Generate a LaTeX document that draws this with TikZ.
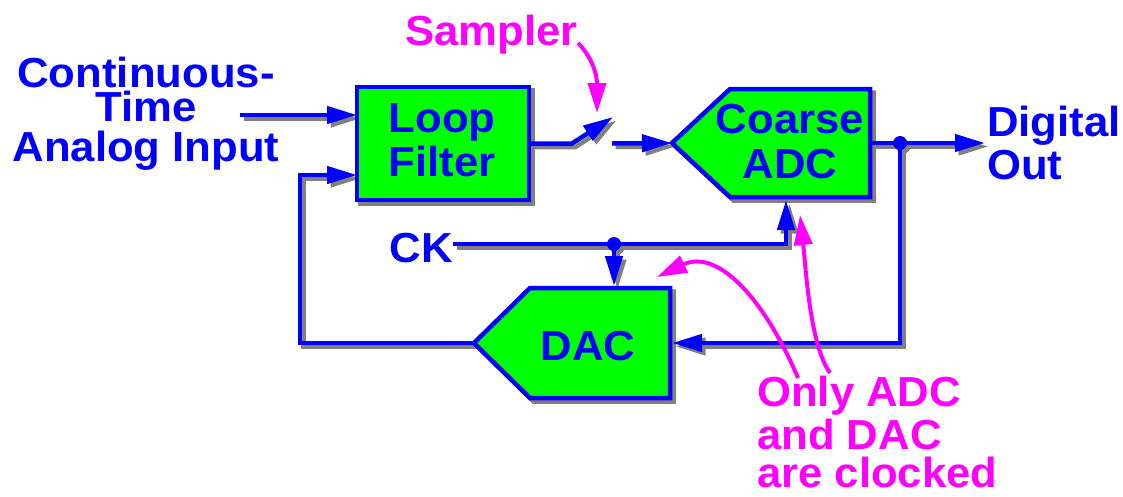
\documentclass[tikz,border=0pt]{standalone}
\usepackage{fontspec}
\setmainfont{Liberation Sans}[FakeStretch=1.04]
\usetikzlibrary{arrows.meta}

\definecolor{wireblue}{RGB}{0,0,255}
\definecolor{blockgreen}{RGB}{0,255,0}
\definecolor{notemagenta}{RGB}{255,0,255}
\definecolor{shadowgray}{RGB}{128,128,128}

\tikzset{
  blockline/.style={line width=4.5pt},
  wire/.style={line width=4.5pt, -{Triangle[length=30pt,width=17pt]}},
  note/.style={draw=notemagenta, line width=4pt, -{Triangle[length=30pt,width=18pt]}},
  txt/.style={inner sep=0pt, font=\fontsize{42}{44}\selectfont\bfseries},
}

% block outlines (used once for the drop shadow, once for the blocks)
\newcommand\drawblocks[2]{%
  \draw[blockline, fill=#1, draw=#2] (lf.north west) rectangle (lf.south east);
  \draw[blockline, fill=#1, draw=#2] (adcin) -- (adcnw) -- (adcse |- adcnw)
        -- (adcse) -- (adcnw |- adcse) -- cycle;
  \draw[blockline, fill=#1, draw=#2] (dacout) -- (dacnw) -- (dacse |- dacnw)
        -- (dacse) -- (dacnw |- dacse) -- cycle;
}

% signal wiring (same two passes)
\newcommand\drawwires[1]{%
  \begin{scope}[color=#1]
    \draw[wire] (in) -- (in -| lf.west);
    \draw[wire] (dacout) -| (fb) -- (fb -| lf.west);
    \draw[wire] (lf.east) -- (swa) -- (swb);
    \draw[wire] (swc) -- (adcin);
    \draw[wire] (adcout) -- (dout);
    \draw[wire] (tap) |- (dacin);
    \draw[wire] (ck.east |- cktap) -| (adcclk);
    \draw[wire] (cktap) -- (dacclk);
    \fill (tap) circle[radius=7];
    \fill (cktap) circle[radius=7];
  \end{scope}
}

\begin{document}
\begin{tikzpicture}[x=1pt,y=-1pt]
\fill[white] (0,0) rectangle (1123,496);
\useasboundingbox (0,0) rectangle (1123,496);

% loop filter body
\node[shape=rectangle, minimum width=172pt, minimum height=113pt,
      inner sep=0pt, outer sep=0pt] (lf) at (443,143.5) {};

% coarse ADC outline
\coordinate (adcin)  at (672,143);
\coordinate (adcnw)  at (730,89);
\coordinate (adcse)  at (870,197);
\coordinate (adcout) at (870,143);
\coordinate (adcclk) at (786,200);

% DAC outline
\coordinate (dacout) at (474,343);
\coordinate (dacnw)  at (530,288);
\coordinate (dacse)  at (670,398);
\coordinate (dacin)  at (672,343);
\coordinate (dacclk) at (614,286);

% wiring points
\coordinate (in)    at (240,115);
\coordinate (fb)    at (300,175);
\coordinate (swa)   at (572,143.5);
\coordinate (swb)   at (613,117);
\coordinate (swc)   at (612,143.5);
\coordinate (tap)   at (900,143);
\coordinate (dout)  at (985,143);
\coordinate (cktap) at (614,244);

% clock label (needed before the wiring)
\node[txt, text=wireblue, anchor=base east] (ck) at (453,262) {CK};

% drop shadow
\begin{scope}[transform canvas={xshift=3.5pt,yshift=-3.5pt}]
  \drawblocks{shadowgray}{shadowgray}
  \drawwires{shadowgray}
\end{scope}

% blocks and wires
\drawblocks{blockgreen}{wireblue}
\drawwires{wireblue}

% block and port labels
\node[txt, text=wireblue, align=center, anchor=north,
      font=\fontsize{42}{40}\selectfont\bfseries] (intext) at (146,57.3)
      {Continuous-\\[-6pt]Time\\Analog Input};
\node[txt, text=wireblue, align=center, anchor=north] (lftext) at (442,103)
      {Loop\\Filter};
\node[txt, text=wireblue, align=center, anchor=north,
      font=\fontsize{42}{45}\selectfont\bfseries] (adctext) at (790,104.3)
      {Coarse\\ADC};
\node[txt, text=wireblue, anchor=base] (dactext) at (588,360) {DAC};
\node[txt, text=wireblue, align=left, anchor=north west,
      font=\fontsize{42}{43}\selectfont\bfseries] (douttext) at (987,106.3)
      {Digital\\Out};

% annotations
\coordinate (smpfrom) at (578,43);
\coordinate (smpto)   at (597,113);
\coordinate (onlyA)   at (798,378);
\coordinate (onlyDAC) at (657,277);
\coordinate (onlyB)   at (830,373);
\coordinate (onlyADC) at (800,215);

\node[txt, text=notemagenta, anchor=base west] (smptext) at (405,45) {Sampler};
\node[txt, text=notemagenta, align=left, anchor=north west,
      font=\fontsize{42}{43}\selectfont\bfseries] (notetext) at (757,376.3)
      {Only ADC\\and DAC\\[-5pt]are clocked};

\draw[note] (smpfrom) .. controls (590,55) and (597,72) .. (smpto);
\draw[note] (onlyA) .. controls (765,300) and (718,248) .. (onlyDAC);
\draw[note] (onlyB) .. controls (810,345) and (806,270) .. (onlyADC);
\end{tikzpicture}
\end{document}
